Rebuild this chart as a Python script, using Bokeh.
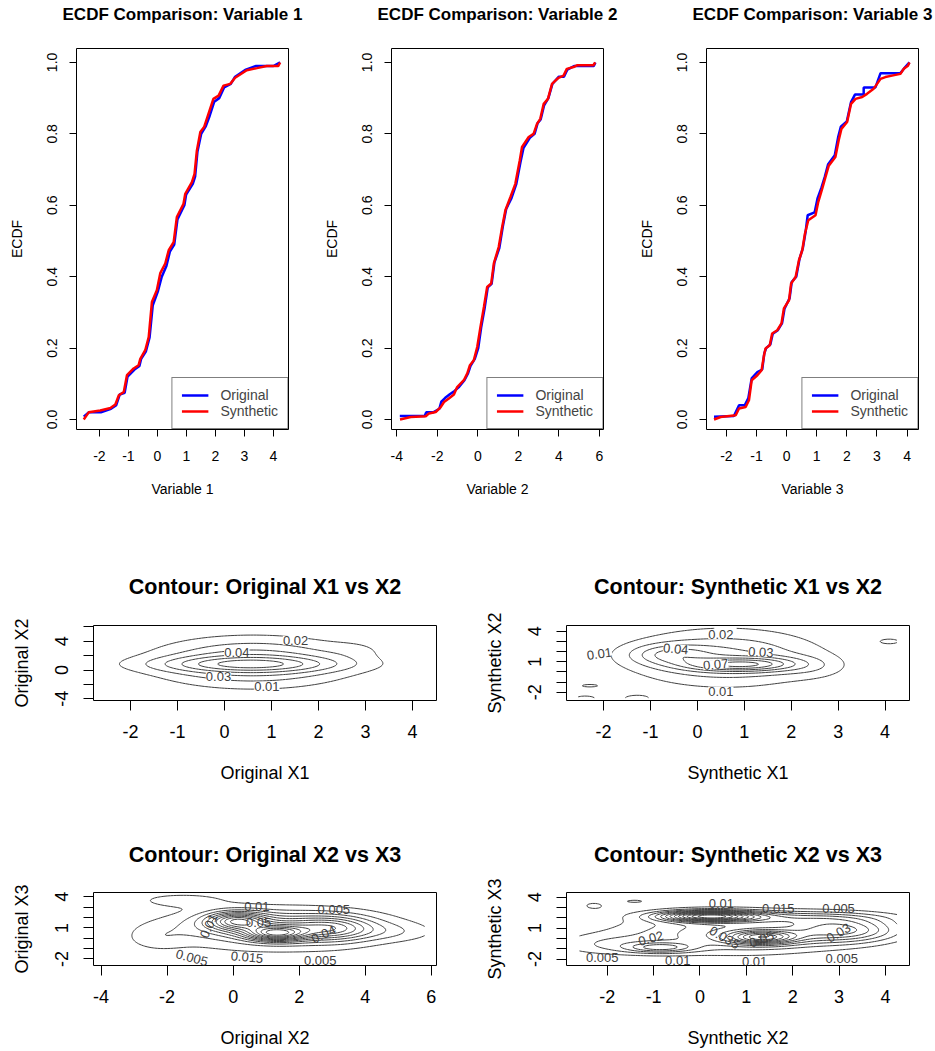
import numpy as np
from bokeh.plotting import figure
from bokeh.layouts import column, row
from bokeh.core.properties import value
from bokeh.models import (FixedTicker, Legend, LegendItem, LabelSet, ColumnDataSource,
                          Range1d, PrintfTickFormatter, Title)
from bokeh.embed import file_html
from bokeh.resources import INLINE

FONT = "Liberation Sans"
LINE = "#404040"

# ---------------- ECDF data (knots) ----------------
v1_orig_x = [-2.54, -2.37, -1.95, -1.60, -1.42, -1.30, -1.13, -1.03, -0.79, -0.62, -0.56, -0.40, -0.27,
             -0.16, 0.02, 0.15, 0.31, 0.43, 0.58, 0.69, 0.93, 0.99, 1.22, 1.30, 1.38, 1.51, 1.66, 1.80,
             1.96, 2.13, 2.30, 2.53, 2.68, 3.05, 3.40, 3.75, 4.00, 4.23]
v1_orig_y = [0.008, 0.02, 0.02, 0.03, 0.04, 0.07, 0.075, 0.12, 0.14, 0.15, 0.17, 0.19, 0.23, 0.32, 0.36,
             0.40, 0.43, 0.47, 0.49, 0.56, 0.60, 0.63, 0.66, 0.68, 0.75, 0.80, 0.82, 0.85, 0.89, 0.90,
             0.93, 0.94, 0.96, 0.98, 0.99, 0.99, 0.99, 1.0]
v1_syn_x = [-2.54, -2.37, -1.97, -1.62, -1.45, -1.33, -1.16, -1.05, -0.82, -0.65, -0.59, -0.42, -0.30,
            -0.19, -0.02, 0.10, 0.27, 0.39, 0.56, 0.67, 0.90, 0.96, 1.19, 1.28, 1.36, 1.48, 1.61, 1.76,
            1.93, 2.11, 2.28, 2.51, 2.68, 3.08, 3.43, 3.77, 4.17, 4.23]
v1_syn_y = [0.0, 0.02, 0.025, 0.032, 0.042, 0.068, 0.077, 0.124, 0.143, 0.152, 0.17, 0.194, 0.231, 0.329,
            0.362, 0.41, 0.437, 0.474, 0.497, 0.567, 0.604, 0.632, 0.665, 0.688, 0.753, 0.805, 0.819,
            0.856, 0.898, 0.907, 0.935, 0.94, 0.957, 0.978, 0.984, 0.99, 0.99, 1.0]

v2_orig_x = [-3.85, -2.62, -2.55, -2.20, -1.90, -1.80, -1.62, -1.40, -1.15, -0.95, -0.66, -0.48, -0.36,
             -0.15, 0.02, 0.17, 0.33, 0.49, 0.68, 0.82, 1.06, 1.23, 1.40, 1.66, 1.90, 2.10, 2.25, 2.58,
             2.80, 2.95, 3.10, 3.27, 3.48, 3.68, 4.00, 4.25, 4.42, 4.75, 4.90, 5.72, 5.80]
v2_orig_y = [0.01, 0.01, 0.02, 0.02, 0.03, 0.05, 0.06, 0.07, 0.08, 0.09, 0.11, 0.13, 0.15, 0.17, 0.20,
             0.26, 0.31, 0.37, 0.38, 0.44, 0.48, 0.54, 0.59, 0.62, 0.66, 0.72, 0.76, 0.79, 0.80, 0.83,
             0.84, 0.88, 0.90, 0.94, 0.96, 0.96, 0.98, 0.99, 0.99, 0.99, 1.0]
v2_syn_x = [-3.84, -3.31, -2.57, -2.41, -2.08, -1.84, -1.67, -1.43, -1.18, -1.02, -0.69, -0.52, -0.39,
            -0.20, -0.03, 0.13, 0.30, 0.46, 0.66, 0.79, 1.03, 1.20, 1.36, 1.61, 1.85, 2.07, 2.18, 2.51,
            2.75, 2.92, 3.08, 3.25, 3.46, 3.66, 3.98, 4.23, 4.39, 4.72, 4.89, 5.70, 5.79]
v2_syn_y = [0.0, 0.007, 0.009, 0.017, 0.021, 0.034, 0.049, 0.059, 0.07, 0.091, 0.11, 0.129, 0.152, 0.166,
            0.203, 0.259, 0.315, 0.371, 0.381, 0.437, 0.483, 0.539, 0.586, 0.623, 0.66, 0.726, 0.763,
            0.791, 0.80, 0.828, 0.842, 0.884, 0.898, 0.94, 0.957, 0.963, 0.982, 0.987, 0.992, 0.992, 1.0]

v3_orig_x = [-2.41, -1.75, -1.58, -1.39, -1.27, -1.16, -0.97, -0.81, -0.74, -0.68, -0.54, -0.46, -0.29,
             -0.15, -0.07, 0.10, 0.17, 0.32, 0.43, 0.54, 0.63, 0.70, 0.93, 1.03, 1.16, 1.27, 1.38, 1.60,
             1.71, 1.80, 2.00, 2.14, 2.27, 2.56, 2.56, 2.95, 3.12, 3.78, 3.94, 4.08]
v3_orig_y = [0.008, 0.01, 0.04, 0.04, 0.06, 0.115, 0.133, 0.14, 0.185, 0.20, 0.21, 0.24, 0.25, 0.27,
             0.31, 0.34, 0.385, 0.40, 0.45, 0.48, 0.525, 0.572, 0.58, 0.62, 0.65, 0.68, 0.715, 0.74,
             0.79, 0.82, 0.835, 0.889, 0.91, 0.91, 0.93, 0.93, 0.97, 0.97, 0.987, 1.0]
v3_syn_x = [-2.41, -2.19, -1.69, -1.58, -1.36, -1.25, -1.16, -0.97, -0.83, -0.75, -0.70, -0.56, -0.48,
            -0.31, -0.17, -0.09, 0.08, 0.15, 0.30, 0.41, 0.52, 0.61, 0.72, 0.96, 1.05, 1.18, 1.29, 1.40,
            1.62, 1.73, 1.82, 2.01, 2.14, 2.29, 2.51, 2.67, 2.89, 3.12, 3.28, 3.50, 3.78, 3.89, 4.03, 4.08]
v3_syn_y = [0.0, 0.007, 0.012, 0.031, 0.035, 0.054, 0.11, 0.124, 0.138, 0.18, 0.199, 0.208, 0.241, 0.25,
            0.269, 0.311, 0.334, 0.381, 0.399, 0.446, 0.474, 0.521, 0.558, 0.572, 0.609, 0.646, 0.679,
            0.711, 0.735, 0.782, 0.814, 0.833, 0.884, 0.898, 0.903, 0.912, 0.926, 0.954, 0.959, 0.963,
            0.968, 0.982, 0.991, 1.0]

ecdf_titles = ["ECDF Comparison: Variable 1", "ECDF Comparison: Variable 2", "ECDF Comparison: Variable 3"]
ecdf_xlabels = ["Variable 1", "Variable 2", "Variable 3"]
ecdf_xticks = [[-2, -1, 0, 1, 2, 3, 4], [-4, -2, 0, 2, 4, 6], [-2, -1, 0, 1, 2, 3, 4]]
ecdf_yticks = [0.0, 0.2, 0.4, 0.6, 0.8, 1.0]
series_names = ["Original", "Synthetic"]

# ---------------- contour panels: density components ----------------
# Panel A: Original X1 vs X2
A_mx = [0.5, 0.6, 2.8]
A_my = [0.8, 1.1, 2.8]
A_sx = [1.4, 1.45, 0.45]
A_sy = [0.75, 2.3, 0.9]
A_amp = [0.030, 0.038, 0.005]
A_levels = [0.01, 0.02, 0.03, 0.04, 0.05, 0.06]
A_lab_x = [1.51, 0.26, -0.13, 0.90]
A_lab_y = [4.13, 2.49, -0.94, -2.25]
A_lab_t = ["0.02", "0.04", "0.03", "0.01"]
A_lab_a = [0, 0, 0, 0]

# Panel B: Synthetic X1 vs X2
B_mx = [0.7, 1.5, -0.6, 0.6, 4.1, -2.3, 2.5, -1.3, -2.4]
B_my = [0.7, 0.8, 1.7, 1.4, 3.0, -1.35, 0.5, -2.6, -2.6]
B_sx = [0.7, 0.6, 0.6, 1.4, 0.25, 0.2, 0.5, 0.3, 0.3]
B_sy = [0.45, 0.5, 0.7, 1.9, 0.3, 0.15, 0.8, 0.35, 0.35]
B_amp = [0.035, 0.02, 0.025, 0.032, 0.012, 0.012, 0.008, 0.012, 0.012]
B_levels = [0.01, 0.02, 0.03, 0.04, 0.05, 0.06, 0.07]
B_lab_x = [0.50, -2.09, -0.46, 1.35, 0.39, 0.50]
B_lab_y = [3.67, 1.78, 2.27, 1.94, 0.74, -1.87]
B_lab_t = ["0.02", "0.01", "0.04", "0.03", "0.07", "0.01"]
B_lab_a = [0, 8, -5, -3, 5, 0]

# Panel C: Original X2 vs X3
C_mx = [1.3, 0.1, 3.0, 1.5, 1.2, -1.6, 4.8, -2.3]
C_my = [0.45, 1.7, 0.9, 1.2, 0.7, 3.7, 0.6, 0.0]
C_sx = [0.6, 0.6, 0.8, 1.8, 2.8, 1.0, 0.9, 0.6]
C_sy = [0.5, 0.6, 0.8, 0.9, 1.9, 0.5, 0.6, 0.8]
C_amp = [0.040, 0.033, 0.020, 0.020, 0.008, 0.006, 0.005, 0.005]
C_levels = [0.005, 0.01, 0.015, 0.02, 0.025, 0.03, 0.035, 0.04, 0.045, 0.05, 0.055, 0.06]
C_lab_x = [0.72, 3.05, 0.77, 2.74, 0.42, -1.25, 2.64, -0.74]
C_lab_y = [3.08, 2.76, 1.50, 0.39, -1.82, -1.88, -2.13, 1.19]
C_lab_t = ["0.01", "0.005", "0.05", "0.04", "0.015", "0.005", "0.005", "0.01"]
C_lab_a = [0, 0, 0, 25, -5, -15, 0, 65]

# Panel D: Synthetic X2 vs X3
D_mx = [0.2, 1.35, -0.85, 3.1, 0.8, 2.2, -2.0, -1.4, -2.3]
D_my = [2.15, 0.1, -0.9, 0.8, 0.5, 2.0, -0.6, 3.6, 3.2]
D_sx = [0.7, 0.5, 0.5, 0.8, 1.6, 1.3, 0.8, 0.18, 0.4]
D_sy = [0.35, 0.45, 0.35, 0.8, 1.3, 0.45, 0.7, 0.12, 0.6]
D_amp = [0.058, 0.036, 0.02, 0.026, 0.02, 0.012, 0.008, 0.006, 0.005]
D_levels = [0.005, 0.01, 0.015, 0.02, 0.025, 0.03, 0.035, 0.04, 0.045, 0.05, 0.055, 0.06, 0.065, 0.07]
D_lab_x = [0.46, 1.69, 2.99, -1.06, 0.53, 1.33, 2.99, -2.11, -0.48, 1.18, 3.06]
D_lab_y = [3.40, 2.86, 2.86, 0.01, 0.08, -0.08, 0.55, -1.82, -2.19, -2.29, -1.97]
D_lab_t = ["0.01", "0.015", "0.005", "0.02", "0.035", "0.05", "0.03", "0.005", "0.01", "0.01", "0.005"]
D_lab_a = [0, 0, 0, 15, -30, 20, 30, 0, 0, 0, 0]


def style_axes(p, font_px, tick_len, xl_stand, xt_stand, yl_stand, yt_stand):
    for ax in (p.xaxis[0], p.yaxis[0]):
        ax.axis_line_color = None
        ax.major_tick_out = tick_len
        ax.major_tick_in = 0
        ax.minor_tick_out = tick_len
        ax.minor_tick_in = 0
        ax.major_tick_line_color = "black"
        ax.minor_tick_line_color = "black"
        ax.major_label_text_font = FONT
        ax.major_label_text_font_size = f"{font_px}px"
        ax.major_label_text_color = "black"
        ax.axis_label_text_font = FONT
        ax.axis_label_text_font_size = f"{font_px}px"
        ax.axis_label_text_font_style = "normal"
        ax.axis_label_text_color = "black"
    p.xaxis[0].major_label_standoff = xl_stand
    p.xaxis[0].axis_label_standoff = xt_stand
    p.yaxis[0].major_label_standoff = yl_stand
    p.yaxis[0].axis_label_standoff = yt_stand
    p.yaxis[0].major_label_orientation = "vertical"
    p.xgrid.grid_line_color = None
    p.ygrid.grid_line_color = None
    p.outline_line_color = "black"
    p.outline_line_width = 1
    p.background_fill_color = "white"
    p.border_fill_color = "white"


def ecdf_fig(i, xr, ox, oy, sx, sy, width, left, right):
    p = figure(width=width, height=520, x_range=Range1d(*xr), y_range=Range1d(-0.028, 1.039),
               output_backend="svg", toolbar_location=None,
               min_border_left=left, min_border_right=right, min_border_top=48, min_border_bottom=91)
    p.title.text = ecdf_titles[i]
    p.title.text_font = FONT
    p.title.text_font_size = "17px"
    p.title.text_font_style = "bold"
    p.title.text_color = "black"
    p.title.align = "center"
    p.title.standoff = 0
    # thin spacer between the frame and the title, to lift the title
    p.add_layout(Title(text=" ", text_font_size="1px", standoff=22), "above")
    p.xaxis.axis_label = ecdf_xlabels[i]
    p.yaxis.axis_label = "ECDF"
    p.xaxis.ticker = FixedTicker(ticks=ecdf_xticks[i])
    p.xaxis.formatter = PrintfTickFormatter(format="%d")
    p.yaxis.ticker = FixedTicker(ticks=ecdf_yticks)
    p.yaxis.formatter = PrintfTickFormatter(format="%.1f")
    style_axes(p, 14, 7, 14, 17, 12, 20)
    r_o = p.line(ox, oy, line_color="#0000FF", line_width=2.5)
    r_s = p.line(sx, sy, line_color="#FF0000", line_width=2.5)
    leg = Legend(items=[LegendItem(label=series_names[0], renderers=[r_o]),
                        LegendItem(label=series_names[1], renderers=[r_s])],
                 location="bottom_right")
    leg.margin = 0
    leg.padding = 9
    leg.spacing = 0
    leg.glyph_width = 27
    leg.glyph_height = 16
    leg.label_height = 16
    leg.label_standoff = 12
    leg.label_text_font = FONT
    leg.label_text_font_size = "14px"
    leg.border_line_color = "black"
    leg.border_line_width = 1
    leg.background_fill_color = "white"
    leg.background_fill_alpha = 1
    p.add_layout(leg)
    return p


def contour_fig(title, xr, yr, xticks, yticks, yminor, xlabel, ylabel, glx, gly,
                mx, my, sxs, sys_, amps, levels, lx, ly, lt, la,
                width, height, left, right, top, bottom, tstand, label_bg):
    p = figure(width=width, height=height, x_range=Range1d(*xr), y_range=Range1d(*yr),
               output_backend="svg", toolbar_location=None,
               min_border_left=left, min_border_right=right, min_border_top=top, min_border_bottom=bottom)
    p.title.text = title
    p.title.text_font = FONT
    p.title.text_font_size = "21.5px"
    p.title.text_font_style = "bold"
    p.title.text_color = "black"
    p.title.align = "center"
    p.title.standoff = tstand
    p.xaxis.axis_label = xlabel
    p.yaxis.axis_label = ylabel
    p.xaxis.ticker = FixedTicker(ticks=xticks)
    p.xaxis.formatter = PrintfTickFormatter(format="%d")
    p.yaxis.ticker = FixedTicker(ticks=yticks, minor_ticks=yminor)
    p.yaxis.formatter = PrintfTickFormatter(format="%d")
    style_axes(p, 18, 10, 14, 22, 15, 21)
    gx = np.linspace(glx[0], glx[1], 100)
    gy = np.linspace(gly[0], gly[1], 100)
    X, Y = np.meshgrid(gx, gy)
    Z = np.zeros_like(X)
    for cx, cy, ssx, ssy, a in zip(mx, my, sxs, sys_, amps):
        Z += a * np.exp(-0.5 * (((X - cx) / ssx) ** 2 + ((Y - cy) / ssy) ** 2))
    p.contour(gx, gy, Z, levels, line_color=LINE, line_width=1)
    src = ColumnDataSource(dict(x=lx, y=ly, text=lt, angle=[np.deg2rad(a) for a in la]))
    labels = LabelSet(x="x", y="y", text="text", angle="angle", source=src,
                      text_font=value(FONT), text_font_size=value("13px"), text_color=value("#404040"),
                      text_align="center", text_baseline="middle")
    if label_bg:
        labels.background_fill_color = "white"
        labels.background_fill_alpha = 1.0
    p.add_layout(labels)
    return p


f1 = ecdf_fig(0, (-2.79, 4.52), v1_orig_x, v1_orig_y, v1_syn_x, v1_syn_y, 312, 76, 24)
f2 = ecdf_fig(1, (-4.26, 6.20), v2_orig_x, v2_orig_y, v2_syn_x, v2_syn_y, 312, 79, 21)
f3 = ecdf_fig(2, (-2.66, 4.38), v3_orig_x, v3_orig_y, v3_syn_x, v3_syn_y, 311, 82, 17)

fa = contour_fig("Contour: Original X1 vs X2", (-2.79, 4.51), (-4.24, 6.19),
                 [-2, -1, 0, 1, 2, 3, 4], [-4, 0, 4], [-2, 2, 6], "Original X1", "Original X2",
                 (-2.54, 4.25), (-3.85, 5.8), A_mx, A_my, A_sx, A_sy, A_amp, A_levels,
                 A_lab_x, A_lab_y, A_lab_t, A_lab_a, 467, 270, 93, 31, 105, 90, 54, True)
fb = contour_fig("Contour: Synthetic X1 vs X2", (-2.79, 4.52), (-2.80, 4.56),
                 [-2, -1, 0, 1, 2, 3, 4], [-2, 1, 4], [-1, 0, 2, 3], "Synthetic X1", "Synthetic X2",
                 (-2.54, 4.25), (-2.53, 4.28), B_mx, B_my, B_sx, B_sy, B_amp, B_levels,
                 B_lab_x, B_lab_y, B_lab_t, B_lab_a, 468, 270, 99, 26, 105, 90, 54, True)
fc = contour_fig("Contour: Original X2 vs X3", (-4.23, 6.16), (-2.63, 4.42),
                 [-4, -2, 0, 2, 4, 6], [-2, 1, 4], [-1, 0, 2, 3], "Original X2", "Original X3",
                 (-3.85, 5.8), (-2.38, 4.15), C_mx, C_my, C_sx, C_sy, C_amp, C_levels,
                 C_lab_x, C_lab_y, C_lab_t, C_lab_a, 467, 260, 93, 31, 102, 83, 52, False)
fd = contour_fig("Contour: Synthetic X2 vs X3", (-2.88, 4.52), (-2.63, 4.45),
                 [-2, -1, 0, 1, 2, 3, 4], [-2, 1, 4], [-1, 0, 2, 3], "Synthetic X2", "Synthetic X3",
                 (-2.6, 4.25), (-2.38, 4.15), D_mx, D_my, D_sx, D_sy, D_amp, D_levels,
                 D_lab_x, D_lab_y, D_lab_t, D_lab_a, 468, 260, 99, 26, 102, 83, 52, False)

layout = column(row(f1, f2, f3), row(fa, fb), row(fc, fd))
open("out.html", "w").write(file_html(layout, INLINE))
